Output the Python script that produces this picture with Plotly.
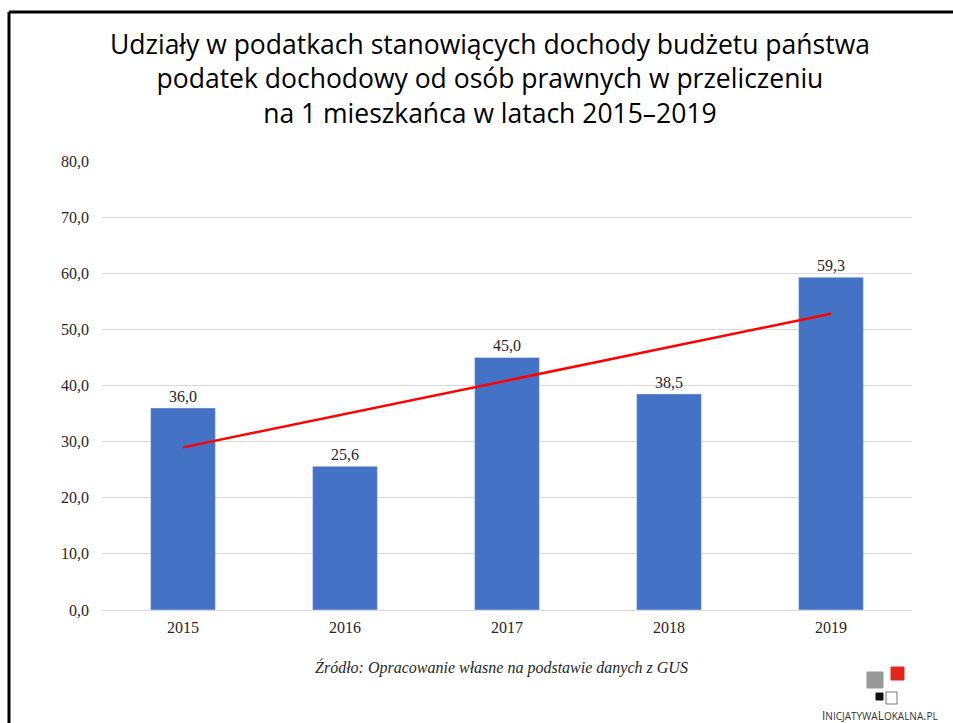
import numpy as np
import plotly.graph_objects as go

# Data
years = ["2015", "2016", "2017", "2018", "2019"]
values = [36.0, 25.6, 45.0, 38.5, 59.3]
y_ticks = [0, 10, 20, 30, 40, 50, 60, 70, 80]
title_lines = [
    "Udziały w podatkach stanowiących dochody budżetu państwa",
    "podatek dochodowy od osób prawnych w przeliczeniu",
    "na 1 mieszkańca w latach 2015–2019",
]

W, H = 953, 723
ML, MR, MT, MB = 102, 41, 161, 113
PW, PH = W - ML - MR, H - MT - MB


def px(x):
    return (x - ML) / PW


def py(y):
    return (H - MB - y) / PH


# Linear trend over the category index
idx = np.arange(1, len(values) + 1)
slope, intercept = np.polyfit(idx, values, 1)
trend = slope * idx + intercept

serif = dict(family="Liberation Serif", size=16, color="#262626")

fig = go.Figure()
fig.add_trace(go.Bar(
    x=years, y=values, marker_color="#4472C4", width=0.4,
    text=[f"{v:.1f}".replace(".", ",") for v in values],
    textposition="outside", cliponaxis=False,
    textfont=serif, hoverinfo="skip",
))
fig.add_trace(go.Scatter(
    x=years, y=trend, mode="lines",
    line=dict(color="#FF0000", width=2.5), hoverinfo="skip",
))

fig.update_layout(
    width=W, height=H, showlegend=False,
    margin=dict(l=ML, r=MR, t=MT, b=MB),
    paper_bgcolor="white", plot_bgcolor="white",
    separators=", ",
    xaxis=dict(
        type="category", showgrid=False, showline=False, ticks="",
        tickfont=serif, ticklabelstandoff=6,
    ),
    yaxis=dict(
        range=[0, 80], tickvals=y_ticks, tickformat=".1f",
        showgrid=True, gridcolor="#D9D9D9", gridwidth=1,
        zeroline=True, zerolinecolor="#D9D9D9", zerolinewidth=1,
        showline=False, ticks="",
        tickfont=serif, ticklabelstandoff=12,
    ),
)

# Three-line heading
fig.add_annotation(
    text="<br>".join(title_lines), xref="paper", yref="paper",
    x=px(490), y=py(79), xanchor="center", yanchor="middle",
    align="center", showarrow=False,
    font=dict(family="Open Sans", size=26.5, color="black"),
)

# Source note
fig.add_annotation(
    text="<i>Źródło: Opracowanie własne na podstawie danych z GUS</i>",
    xref="paper", yref="paper", x=px(501), y=py(667),
    xanchor="center", yanchor="middle", showarrow=False,
    font=dict(family="Liberation Serif", size=16, color="#262626"),
)

# Frame along the top and left edges
fig.add_shape(type="line", xref="paper", yref="paper",
              x0=px(9), y0=py(12), x1=px(W + 5), y1=py(12),
              line=dict(color="black", width=3))
fig.add_shape(type="line", xref="paper", yref="paper",
              x0=px(9), y0=py(12), x1=px(9), y1=py(H + 5),
              line=dict(color="black", width=3))


# Logo squares
def square(x0, y0, x1, y1, fill, line_color=None):
    fig.add_shape(type="rect", xref="paper", yref="paper",
                  x0=px(x0), y0=py(y1), x1=px(x1), y1=py(y0),
                  fillcolor=fill,
                  line=dict(color=line_color or fill, width=1))


square(867, 672, 883, 688, "#999999")
square(891, 667, 904, 680, "#E0261E")
square(876, 693, 883, 700, "#111111")
square(886, 692, 897, 704, "white", "#777777")
fig.add_annotation(
    text="I<span style='font-size:10px'>NICJATYWA</span>L"
         "<span style='font-size:10px'>OKALNA</span>.<span style='font-size:10px'>PL</span>",
    xref="paper", yref="paper", x=px(820), y=py(715),
    xanchor="left", yanchor="middle", showarrow=False,
    font=dict(family="Open Sans", size=12, color="#333333"),
)

fig.write_html("out.html")
